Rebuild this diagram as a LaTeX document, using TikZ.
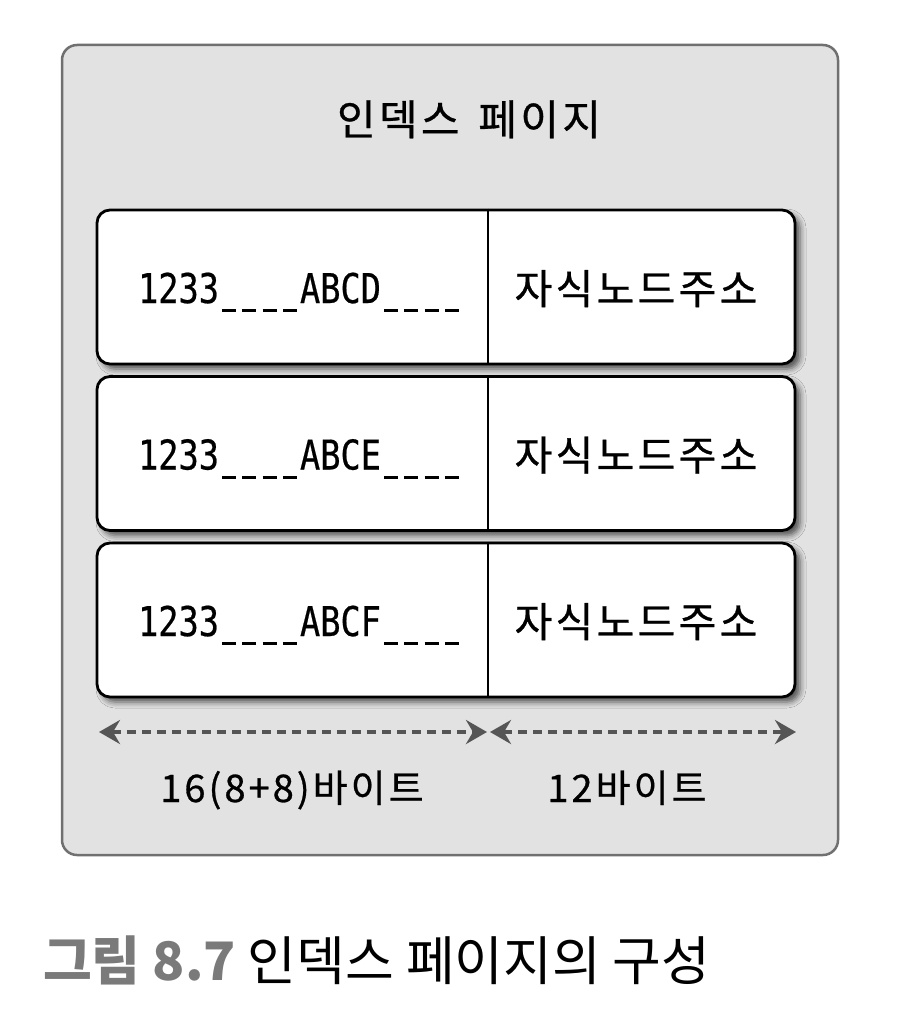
\documentclass[tikz,border=0pt]{standalone}
\usepackage{fontspec}
\setmainfont{Noto Sans CJK KR}
\newfontfamily\dgm[FakeBold=0.7]{Noto Sans CJK KR}
\newfontfamily\monof[FakeStretch=0.82,FakeBold=0.5]{DejaVu Sans Mono}
\usetikzlibrary{shadows.blur,arrows.meta}
\definecolor{pagegray}{HTML}{E2E2E2}
\definecolor{edgegray}{HTML}{707070}
\definecolor{arrgray}{HTML}{555555}
\definecolor{capgray}{HTML}{7A7A7A}
\newcommand\usc{\makebox[20.24pt][c]{\raisebox{-9pt}{\rule{14pt}{3pt}}}}
\begin{document}
\begin{tikzpicture}[x=1pt,y=-1pt,
  pagebox/.style={draw=edgegray,line width=2.5pt,fill=pagegray,rounded corners=15pt},
  rowbox/.style={draw=black,line width=2.8pt,fill=white,rounded corners=13pt,
    minimum width=698pt,minimum height=154pt,inner sep=0pt,
    blur shadow={shadow xshift=5pt,shadow yshift=-5pt,shadow blur radius=6pt,shadow opacity=65}},
  keytxt/.style={font=\monof\fontsize{41}{41}\selectfont,anchor=base,inner sep=0pt},
  valtxt/.style={font=\dgm\fontsize{41}{41}\selectfont\addfontfeature{LetterSpace=8},anchor=base,inner sep=0pt},
  lbltxt/.style={font=\dgm\fontsize{38}{38}\selectfont\addfontfeature{LetterSpace=8},anchor=base,inner sep=0pt},
  dimarrow/.style={draw=arrgray,line width=3.5pt,dash pattern=on 9pt off 6pt,
    {Stealth[length=21pt,width=24pt,inset=7pt]}-{Stealth[length=21pt,width=24pt,inset=7pt]}}
]
\useasboundingbox (0,0) rectangle (900,1022);
\fill[white] (0,0) rectangle (900,1022);
\node[pagebox,minimum width=776pt,minimum height=810pt,inner sep=0pt] (page) at (450,450) {};
\node[font=\dgm\fontsize{42}{42}\selectfont\addfontfeature{LetterSpace=8},anchor=base,inner sep=0pt] (title) at (469,135) {인덱스\hspace{6pt} 페이지};

\node[rowbox] (r1) at (446,287) {};
\node[rowbox] (r2) at (446,453.5) {};
\node[rowbox] (r3) at (446,620) {};
\foreach \r in {r1,r2,r3}{
  \draw[line width=1.6pt] ([xshift=42pt]\r.north) -- ([xshift=42pt]\r.south);
}
\node[keytxt] (k1) at (300,303) {1233\usc\usc\usc\usc ABCD\usc\usc\usc\usc};
\node[keytxt] (k2) at (300,469.5) {1233\usc\usc\usc\usc ABCE\usc\usc\usc\usc};
\node[keytxt] (k3) at (300,636) {1233\usc\usc\usc\usc ABCF\usc\usc\usc\usc};
\node[valtxt] (v1) at (636,304) {자식노드주소};
\node[valtxt] (v2) at (636,470.5) {자식노드주소};
\node[valtxt] (v3) at (636,637) {자식노드주소};

\coordinate (a0) at (99,732);
\coordinate (a1) at (487,732);
\coordinate (a2) at (490,732);
\coordinate (a3) at (796,732);
\draw[dimarrow] (a0) -- (a1);
\draw[dimarrow] (a2) -- (a3);
\node[lbltxt] (l1) at (292,802) {16(8+8)바이트};
\node[lbltxt] (l2) at (627,802) {12바이트};

\node[font=\fontsize{53}{53}\selectfont,anchor=base west,inner sep=0pt] (cap) at (43,980)
  {\textcolor{capgray}{\bfseries 그림 8.7} 인덱스 페이지의 구성};
\end{tikzpicture}
\end{document}
